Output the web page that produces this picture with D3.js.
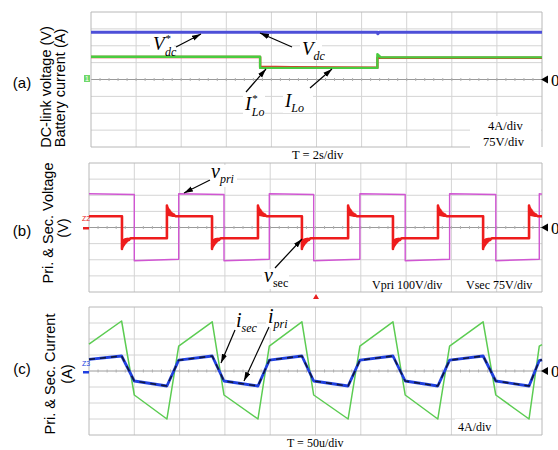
<!DOCTYPE html>
<html><head><meta charset="utf-8">
<script src="https://cdn.jsdelivr.net/npm/d3@7"></script>
<style>body{margin:0;background:#fff}svg{display:block}</style>
</head><body>
<svg id="fig" width="558" height="450"></svg>
<script>
// ---------- (a) DC-link voltage / battery current, T = 2 s/div ----------
const aTimeRange = [0, 20];          // s
const aVoltRange = [-300, 300];      // V, 75 V/div
const aCurrRange = [-16, 16];        // A, 4 A/div
const vdcT    = [0, 12.7, 12.72, 12.78, 20];
const vdcV    = [210, 210, 203, 210, 210];
const iLoRefT = [0, 7.5, 7.5, 8.9, 12.7, 12.7, 20];
const iLoRefV = [5.35, 5.35, 3.05, 2.9, 2.8, 5.15, 5.15];
const iLoT    = [0, 7.5, 7.5, 12.7, 12.7, 12.85, 20];
const iLoV    = [5.4, 5.4, 2.75, 2.75, 6.0, 5.25, 5.25];

// ---------- (b) primary / secondary voltage, T = 50 us/div ----------
const bTimeRange = [0, 500];         // us
const vpriRange  = [-400, 400];      // V, 100 V/div
const vsecRange  = [-300, 300];      // V, 75 V/div
const vpriT = [0, 50, 50, 99, 99, 149, 149, 199, 199, 248, 248, 299, 299, 349, 349, 398, 398, 449, 449, 497, 497, 500];
const vpriV = [209, 205, -206, -197, 209, 205, -206, -197, 209, 205, -206, -197, 209, 205, -206, -197, 209, 205, -206, -197, 209, 207];
const vsecStart  = 52;
const vsecEdgeT  = [36.4, 86, 135.8, 186.5, 235, 286, 335.5, 385.2, 435, 485.7];
const vsecLevels = [-50, 52, -50, 52, -50, 52, -50, 52, -50, 52];
// switching ring after each edge (offset from edge in us, overshoot in V)
const ringDt = [0, 0.3, 0.6, 0.9, 1.2, 1.5, 1.9, 2.3, 2.7, 3.1, 3.6, 4.1, 4.7, 5.3, 6, 6.8, 7.7, 8.7, 10];
const ringDv = [50, 14, 42, 12, 36, 10, 32, 8, 28, 6, 22, 5, 17, 4, 12, 3, 8, 2, 0];

// ---------- (c) primary / secondary current ----------
const cRange = [-16, 16];            // A, 4 A/div
const iT = [0, 36, 50, 86, 99, 136, 149, 186.5, 199, 235, 248, 286, 299, 335.5, 349, 385, 398, 435, 449, 485.7, 497, 500];
const iPriV = [6.7, 12.5, -6.0, -12.0, 6.2, 12.3, -6.0, -12.0, 6.2, 12.3, -6.0, -12.0, 6.2, 12.3, -6.0, -12.0, 6.2, 12.3, -6.0, -12.0, 6.2, 6.6];
const iSecV = [2.9, 3.75, -2.5, -3.75, 2.7, 3.75, -2.5, -3.75, 2.7, 3.75, -2.5, -3.75, 2.7, 3.75, -2.5, -3.75, 2.7, 3.75, -2.5, -3.75, 2.6, 2.8];

const svg = d3.select('#fig');
const SANS = '"Liberation Sans", Arial, sans-serif';
const SERIF = '"Liberation Serif", "Times New Roman", serif';

const defs = svg.append('defs');
defs.append('marker').attr('id', 'ah').attr('viewBox', '0 0 10 6')
  .attr('refX', 10).attr('refY', 3).attr('markerWidth', 9).attr('markerHeight', 6)
  .attr('markerUnits', 'userSpaceOnUse').attr('orient', 'auto')
  .append('path').attr('d', 'M0,0L10,3L0,6z').attr('fill', '#000');

const frames = {
  a: {x0: 91, x1: 542, y0: 12, y1: 147},
  b: {x0: 89, x1: 542, y0: 163, y1: 292},
  c: {x0: 89, x1: 542, y0: 307, y1: 435}
};

function grid(f, bottomEnd) {
  const g = svg.append('g');
  const w = f.x1 - f.x0, h = f.y1 - f.y0;
  for (let i = 1; i < 10; i++) {
    const x = f.x0 + i * w / 10;
    g.append('line').attr('x1', x).attr('x2', x).attr('y1', f.y0).attr('y2', f.y1)
      .attr('stroke', '#d4d4d4');
  }
  for (let j = 1; j < 8; j++) {
    const y = f.y0 + j * h / 8;
    g.append('line').attr('x1', f.x0).attr('x2', f.x1).attr('y1', y).attr('y2', y)
      .attr('stroke', j === 4 ? '#9a9a9a' : '#d4d4d4');
  }
  const yc = f.y0 + h / 2;
  for (let k = 1; k < 50; k++) {
    const x = f.x0 + k * w / 50;
    g.append('line').attr('x1', x).attr('x2', x).attr('y1', yc - 1.5).attr('y2', yc + 1.5)
      .attr('stroke', '#b0b0b0');
  }
  const fr = g.append('g').attr('stroke', '#b8b8b8').attr('fill', 'none');
  fr.append('line').attr('x1', f.x0).attr('x2', f.x1).attr('y1', f.y0).attr('y2', f.y0);
  fr.append('line').attr('x1', f.x0).attr('x2', f.x0).attr('y1', f.y0).attr('y2', f.y1);
  fr.append('line').attr('x1', f.x1).attr('x2', f.x1).attr('y1', f.y0).attr('y2', f.y1);
  fr.append('line').attr('x1', f.x0).attr('x2', bottomEnd || f.x1).attr('y1', f.y1).attr('y2', f.y1);
  // ground reference marker on the right
  svg.append('path').attr('d', `M${f.x1 - 1},${yc} l7,-4 l0,8z`).attr('fill', '#000');
  svg.append('text').attr('x', f.x1 + 9).attr('y', yc + 6).text('0')
    .style('font-family', SERIF).style('font-size', '17px');
}

function trace(xs, ys, tArr, vArr, color, width, dash) {
  const line = d3.line().x(d => xs(d[0])).y(d => ys(d[1]));
  const p = svg.append('path').datum(d3.zip(tArr, vArr)).attr('d', line)
    .attr('fill', 'none').attr('stroke', color).attr('stroke-width', width)
    .attr('stroke-linejoin', 'round');
  if (dash) p.attr('stroke-dasharray', dash);
  return p;
}

function arrow(x1, y1, x2, y2) {
  svg.append('line').attr('x1', x1).attr('y1', y1).attr('x2', x2).attr('y2', y2)
    .attr('stroke', '#000').attr('stroke-width', 1.2).attr('marker-end', 'url(#ah)');
}

function whiteBox(x, y, w, h) {
  svg.append('rect').attr('x', x).attr('y', y).attr('width', w).attr('height', h).attr('fill', '#fff');
}

function symbol(x, y, main, sub, sup, opt = {}) {
  const t = svg.append('text').attr('x', x).attr('y', y)
    .style('font-family', SERIF).style('font-size', (opt.size || 19) + 'px');
  t.append('tspan').text(main).style('font-style', 'italic');
  if (sup) t.append('tspan').text(sup).attr('dy', -8).attr('dx', 1).style('font-size', '11px');
  t.append('tspan').text(sub).attr('dx', sup ? -6 : 0).attr('dy', sup ? 14 : 5)
    .style('font-size', (opt.subSize || 12) + 'px')
    .style('font-style', opt.subUpright ? 'normal' : 'italic');
}

function note(x, y, s, size) {
  svg.append('text').attr('x', x).attr('y', y).text(s)
    .style('font-family', SERIF).style('font-size', (size || 12) + 'px');
}

function sideTitle(x, y, s) {
  svg.append('text').attr('transform', `translate(${x},${y}) rotate(-90)`)
    .attr('text-anchor', 'middle').attr('dominant-baseline', 'central').text(s)
    .style('font-family', SANS).style('font-size', '14.5px');
}
function tag(x, y, s) {
  svg.append('text').attr('x', x).attr('y', y).attr('text-anchor', 'middle')
    .attr('dominant-baseline', 'central').text(s)
    .style('font-family', SANS).style('font-size', '15px');
}

// ===== panel (a) =====
const fa = frames.a;
grid(fa, 470);
const xa = d3.scaleLinear().domain(aTimeRange).range([fa.x0, fa.x1]);
const yaV = d3.scaleLinear().domain(aVoltRange).range([fa.y1, fa.y0]);
const yaI = d3.scaleLinear().domain(aCurrRange).range([fa.y1, fa.y0]);
whiteBox(470, 116, 71, 34);
trace(xa, yaV, vdcT, vdcV, '#4d4fd8', 3);
trace(xa, yaI, iLoRefT, iLoRefV, '#e8262a', 2.4);
trace(xa, yaI, iLoT, iLoV, '#49cc3f', 2.4);
svg.append('rect').attr('x', 84).attr('y', 75).attr('width', 6).attr('height', 7)
  .attr('fill', '#6fd86a');
svg.append('text').attr('x', 87).attr('y', 81).attr('text-anchor', 'middle').text('1')
  .style('font-family', SANS).style('font-size', '7px').attr('fill', '#fff');

whiteBox(150, 36, 24, 19);
symbol(153, 50, 'V', 'dc', '*');
arrow(176, 47, 201, 34);
whiteBox(300, 40, 22, 20);
symbol(302, 55, 'V', 'dc');
arrow(292, 47, 260, 33);
whiteBox(243, 95, 22, 22);
symbol(245, 110, 'I', 'Lo', '*');
arrow(246, 92, 266, 69);
whiteBox(283, 91, 30, 22);
symbol(285, 107, 'I', 'Lo');
arrow(310, 88, 332, 69);
note(488, 130, '4A/div', 12.5);
note(483, 146, '75V/div', 12.5);
note(292, 159, 'T = 2s/div', 12.5);

// ===== panel (b) =====
const fb = frames.b;
grid(fb);
const xb = d3.scaleLinear().domain(bTimeRange).range([fb.x0, fb.x1]);
const ybP = d3.scaleLinear().domain(vpriRange).range([fb.y1, fb.y0]);
const ybS = d3.scaleLinear().domain(vsecRange).range([fb.y1, fb.y0]);
trace(xb, ybP, vpriT, vpriV, '#d056d2', 1.4);

const vsecPts = [[0, vsecStart]];
let lvPrev = vsecStart;
vsecEdgeT.forEach((t, i) => {
  const lv = vsecLevels[i], s = Math.sign(lv - lvPrev);
  vsecPts.push([t, lvPrev]);
  ringDt.forEach((d, k) => vsecPts.push([t + d, lv + s * ringDv[k]]));
  lvPrev = lv;
});
vsecPts.push([bTimeRange[1], lvPrev]);
trace(xb, ybS, vsecPts.map(d => d[0]), vsecPts.map(d => d[1]), '#ee1c1c', 2.6);

svg.append('text').attr('x', 86).attr('y', 221).attr('text-anchor', 'middle').text('Z2')
  .style('font-family', SANS).style('font-size', '7px').attr('fill', '#e82020');
svg.append('rect').attr('x', 83).attr('y', 227).attr('width', 6).attr('height', 2.5).attr('fill', '#e82020');
svg.append('path').attr('d', 'M316,294 l-3,5 l6,0z').attr('fill', '#e82020');

whiteBox(209, 165, 28, 22);
symbol(211, 178, 'v', 'pri', null, {size: 20});
arrow(210, 180, 184, 193);
whiteBox(262, 269, 27, 20);
symbol(264, 282, 'v', 'sec', null, {size: 20, subUpright: true});
arrow(275, 268, 302, 239);
note(372, 289, 'Vpri 100V/div', 12);
note(466, 289, 'Vsec 75V/div', 12);

// ===== panel (c) =====
const fc = frames.c;
grid(fc);
const xc = d3.scaleLinear().domain(bTimeRange).range([fc.x0, fc.x1]);
const yc = d3.scaleLinear().domain(cRange).range([fc.y1, fc.y0]);
trace(xc, yc, iT, iPriV, '#5ccc52', 1.5);
trace(xc, yc, iT, iSecV, '#2040e0', 2.8);
trace(xc, yc, iT, iSecV, '#101840', 1.6, '6,5');

svg.append('text').attr('x', 86).attr('y', 366).attr('text-anchor', 'middle').text('Z3')
  .style('font-family', SANS).style('font-size', '7px').attr('fill', '#2040e0');
svg.append('rect').attr('x', 83).attr('y', 371).attr('width', 6).attr('height', 2.5).attr('fill', '#2040e0');

whiteBox(235, 310, 22, 20);
symbol(236, 327, 'i', 'sec', null, {size: 20});
arrow(235, 330, 221, 363);
whiteBox(266, 308, 24, 20);
symbol(268, 323, 'i', 'pri', null, {size: 20});
arrow(269, 327, 244, 381);
whiteBox(455, 419, 40, 14);
note(458, 431, '4A/div', 12);
note(287, 447, 'T = 50u/div', 12);

// ===== side titles =====
tag(22, 82, '(a)');
sideTitle(46, 87, 'DC-link voltage (V)');
sideTitle(60, 88, 'Battery current (A)');
tag(22, 230, '(b)');
sideTitle(48, 223, 'Pri. & Sec. Voltage');
sideTitle(63, 228, '(V)');
tag(22, 368, '(c)');
sideTitle(50, 374, 'Pri. & Sec. Current');
sideTitle(67, 374, '(A)');
</script>
</body></html>
